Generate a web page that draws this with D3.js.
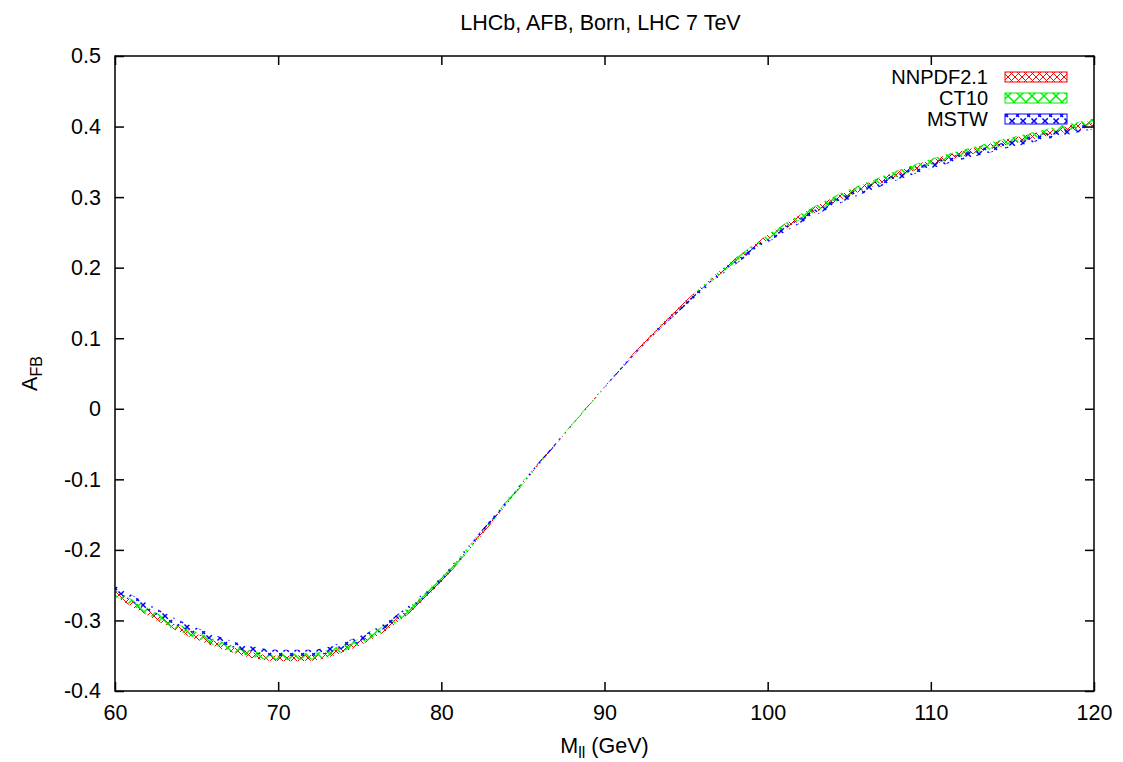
<!DOCTYPE html>
<html>
<head>
<meta charset="utf-8">
<script src="https://cdn.jsdelivr.net/npm/d3@7"></script>
<style>
  body { margin: 0; background: #fff; }
  svg { font-family: "Liberation Sans", Arial, sans-serif; }
</style>
</head>
<body>
<svg id="chart"></svg>
<script>
// invariant mass grid (GeV)
const mass = [60, 62, 64, 66, 68, 70, 72, 74, 76, 78, 80, 82, 84, 86, 88, 90,
              92, 94, 96, 98, 100, 102, 104, 106, 108, 110, 112, 114, 116, 118, 120];

// central A_FB for each PDF set
const nnpdfCentral = [-0.262, -0.289, -0.313, -0.332, -0.347, -0.354, -0.353, -0.341, -0.320, -0.287, -0.243,
                      -0.190, -0.134, -0.077, -0.023, 0.031, 0.083, 0.130, 0.172, 0.210, 0.243,
                      0.271, 0.295, 0.315, 0.333, 0.349, 0.362, 0.374, 0.385, 0.395, 0.405];
const ct10Central  = [-0.261, -0.287, -0.311, -0.330, -0.345, -0.352, -0.351, -0.339, -0.318, -0.285, -0.242,
                      -0.189, -0.133, -0.077, -0.023, 0.031, 0.083, 0.130, 0.172, 0.210, 0.243,
                      0.272, 0.296, 0.316, 0.334, 0.350, 0.363, 0.375, 0.386, 0.397, 0.407];
const mstwCentral  = [-0.255, -0.281, -0.305, -0.324, -0.339, -0.346, -0.346, -0.335, -0.315, -0.283, -0.241,
                      -0.188, -0.132, -0.077, -0.023, 0.030, 0.082, 0.128, 0.169, 0.207, 0.239,
                      0.267, 0.291, 0.311, 0.329, 0.345, 0.358, 0.370, 0.381, 0.391, 0.401];

// half width of the PDF uncertainty band
const nnpdfErr = [0.004, 0.004, 0.004, 0.004, 0.004, 0.004, 0.004, 0.004, 0.0035, 0.0035, 0.003,
                  0.0025, 0.002, 0.0015, 0.001, 0.001, 0.0015, 0.002, 0.0025, 0.003, 0.0035,
                  0.004, 0.004, 0.004, 0.004, 0.004, 0.004, 0.004, 0.004, 0.004, 0.004];
const ct10Err  = [0.0045, 0.0045, 0.0045, 0.0045, 0.0045, 0.0045, 0.0045, 0.0045, 0.004, 0.004, 0.0035,
                  0.003, 0.0025, 0.002, 0.001, 0.001, 0.0015, 0.002, 0.0025, 0.003, 0.0035,
                  0.004, 0.0045, 0.0045, 0.0045, 0.0045, 0.0045, 0.0045, 0.0045, 0.0045, 0.0045];
const mstwErr  = [0.0045, 0.0045, 0.0045, 0.0045, 0.0045, 0.0045, 0.0045, 0.0045, 0.004, 0.004, 0.0035,
                  0.003, 0.0025, 0.002, 0.001, 0.001, 0.0015, 0.002, 0.0025, 0.003, 0.0035,
                  0.004, 0.0045, 0.0045, 0.0045, 0.0045, 0.0045, 0.0045, 0.0045, 0.0045, 0.0045];

const xTicks = [60, 70, 80, 90, 100, 110, 120];
const yTicks = [-0.4, -0.3, -0.2, -0.1, 0, 0.1, 0.2, 0.3, 0.4, 0.5];

const seriesNames = ["NNPDF2.1", "CT10", "MSTW"];
const seriesColors = ["#ff0000", "#00ee00", "#0000ff"];

const width = 1123, height = 762;
const margin = {left: 115, right: 29, top: 56, bottom: 71};
const fontSize = 21.5;

const svg = d3.select("#chart")
    .attr("width", width)
    .attr("height", height);

const x = d3.scaleLinear().domain([60, 120]).range([margin.left, width - margin.right]);
const y = d3.scaleLinear().domain([-0.4, 0.5]).range([height - margin.bottom, margin.top]);

// hatch patterns, one per pdf set
const defs = svg.append("defs");
function hatch(id, size, color, sw, dash) {
    const p = defs.append("pattern")
        .attr("id", id)
        .attr("patternUnits", "userSpaceOnUse")
        .attr("width", size)
        .attr("height", size);
    const lines = [[0, 0, size, size], [0, size, size, 0]];
    lines.forEach(l => {
        p.append("line")
            .attr("x1", l[0]).attr("y1", l[1])
            .attr("x2", l[2]).attr("y2", l[3])
            .attr("stroke", color)
            .attr("stroke-width", sw)
            .attr("stroke-dasharray", dash || null);
    });
}
hatch("pat0", 7, seriesColors[0], 1);
hatch("pat1", 12, seriesColors[1], 1.5);
hatch("pat2", 11, seriesColors[2], 1.5, "4,2");

const series = [
    {central: nnpdfCentral, err: nnpdfErr},
    {central: ct10Central, err: ct10Err},
    {central: mstwCentral, err: mstwErr}
];

defs.append("clipPath").attr("id", "plotclip")
    .append("rect")
    .attr("x", margin.left).attr("y", margin.top)
    .attr("width", width - margin.left - margin.right)
    .attr("height", height - margin.top - margin.bottom);

const area = d3.area()
    .x(d => x(d.m))
    .y0(d => y(d.c - d.e))
    .y1(d => y(d.c + d.e))
    .curve(d3.curveMonotoneX);

const bands = svg.append("g").attr("clip-path", "url(#plotclip)");
series.forEach((s, i) => {
    const pts = mass.map((m, j) => ({m: m, c: s.central[j], e: s.err[j]}));
    bands.append("path")
        .datum(pts)
        .attr("d", area)
        .attr("fill", `url(#pat${i})`)
        .attr("stroke", "none");
});

// frame
svg.append("rect")
    .attr("x", margin.left).attr("y", margin.top)
    .attr("width", width - margin.left - margin.right)
    .attr("height", height - margin.top - margin.bottom)
    .attr("fill", "none")
    .attr("stroke", "#000")
    .attr("stroke-width", 1.5);

// axes, ticks pointing inward and mirrored
const tickLen = 9;
const fmtY = d => {
    const v = Math.round(d * 10) / 10;
    return v < 0 ? "-" + Math.abs(v) : String(v);
};
const axisBottom = d3.axisBottom(x).tickValues(xTicks).tickSize(-tickLen).tickPadding(14);
const axisTop = d3.axisTop(x).tickValues(xTicks).tickSize(-tickLen).tickFormat("");
const axisLeft = d3.axisLeft(y).tickValues(yTicks).tickSize(-tickLen).tickPadding(14).tickFormat(fmtY);
const axisRight = d3.axisRight(y).tickValues(yTicks).tickSize(-tickLen).tickFormat("");

function styleAxis(g) {
    g.select(".domain").remove();
    g.selectAll(".tick line").attr("stroke", "#000").attr("stroke-width", 1.5);
    g.selectAll(".tick text")
        .attr("fill", "#000")
        .style("font-size", fontSize + "px")
        .style("font-family", "Liberation Sans, Arial, sans-serif");
}

svg.append("g").attr("transform", `translate(0,${height - margin.bottom})`).call(axisBottom).call(styleAxis);
svg.append("g").attr("transform", `translate(0,${margin.top})`).call(axisTop).call(styleAxis);
svg.append("g").attr("transform", `translate(${margin.left},0)`).call(axisLeft).call(styleAxis);
svg.append("g").attr("transform", `translate(${width - margin.right},0)`).call(axisRight).call(styleAxis);

// title
svg.append("text")
    .attr("x", (margin.left + width - margin.right) / 2 - 4)
    .attr("y", 30)
    .attr("text-anchor", "middle")
    .style("font-size", fontSize + "px")
    .text("LHCb, AFB, Born, LHC 7 TeV");

// x label
const xl = svg.append("text")
    .attr("x", (margin.left + width - margin.right) / 2)
    .attr("y", 753)
    .attr("text-anchor", "middle")
    .style("font-size", fontSize + "px");
xl.append("tspan").text("M");
xl.append("tspan").attr("dy", 5).style("font-size", "16px").text("ll");
xl.append("tspan").attr("dy", -5).text(" (GeV)");

// y label
const yl = svg.append("text")
    .attr("transform", `translate(37,${(margin.top + height - margin.bottom) / 2}) rotate(-90)`)
    .attr("text-anchor", "middle")
    .style("font-size", fontSize + "px");
yl.append("tspan").text("A");
yl.append("tspan").attr("dy", 5).style("font-size", "16px").text("FB");

// legend
const legend = svg.append("g").attr("class", "legend");
seriesNames.forEach((name, i) => {
    const cy = 77 + i * 21;
    legend.append("text")
        .attr("x", 988)
        .attr("y", cy + 7)
        .attr("text-anchor", "end")
        .style("font-size", "20px")
        .text(name);
    legend.append("rect")
        .attr("x", 1005)
        .attr("y", cy - 5)
        .attr("width", 62)
        .attr("height", 10)
        .attr("fill", `url(#pat${i})`)
        .attr("stroke", seriesColors[i])
        .attr("stroke-width", 1);
});
</script>
</body>
</html>
